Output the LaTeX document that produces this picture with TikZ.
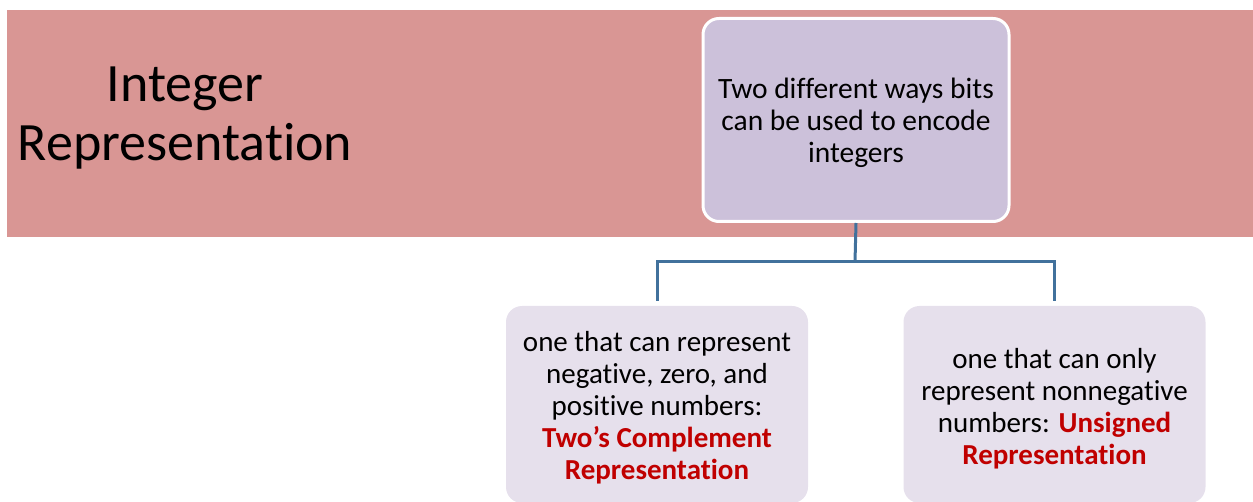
\documentclass[tikz,border=0pt]{standalone}
\usepackage{fontspec}
\setmainfont{Carlito}[Ligatures={NoCommon}]
\definecolor{bandpink}{HTML}{D99694}
\definecolor{topfill}{HTML}{CCC1DA}
\definecolor{subfill}{HTML}{E6E0EC}
\definecolor{connblue}{HTML}{41719C}
\definecolor{hired}{HTML}{C00000}
\tikzset{
  titletext/.style={align=center,font=\fontsize{54}{59}\selectfont,inner sep=0pt},
  topbox/.style={rounded corners=16pt,fill=topfill,draw=white,line width=3pt,
    minimum width=306pt,minimum height=203pt,inner sep=0pt},
  toptext/.style={align=center,font=\fontsize{29.5}{32}\selectfont,inner sep=0pt},
  subbox/.style={rounded corners=16pt,fill=subfill,
    minimum width=302pt,minimum height=197pt,inner sep=0pt},
  subtext/.style={align=center,font=\fontsize{29}{32}\selectfont,inner sep=0pt},
  conn/.style={draw=connblue,line width=3pt}
}
\newcommand{\hlred}[1]{\textcolor{hired}{\textbf{#1}}}
\begin{document}
\begin{tikzpicture}[x=1pt,y=-1pt]
\useasboundingbox (0,0) rectangle (1253,502);
\fill[bandpink] (7,10) rectangle (1253,237);
\node[titletext] (title) at (185,118) {Integer\\Representation};
\node[topbox] (top) at (856,120) {};
\node[toptext] (toplbl) at ([yshift=-3pt]top.center) {Two different ways bits\\can be used to encode\\integers};
\node[subbox] (left) at (657,404.5) {};
\node[subtext] (leftlbl) at ([yshift=-3pt]left.center) {one that can represent\\negative, zero, and\\positive numbers:\\\hlred{Two’s Complement}\\\hlred{Representation}};
\node[subbox] (right) at (1054.5,404.5) {};
\node[subtext] (rightlbl) at ([yshift=-4pt]right.center) {one that can only\\represent nonnegative\\numbers: \hlred{Unsigned}\\\hlred{Representation}};
\coordinate (mid) at (855,262);
\draw[conn] (top.south) -- (mid);
\draw[conn,shorten >=5pt] (mid) -| (left.north);
\draw[conn,shorten >=5pt] (mid) -| (right.north);
\end{tikzpicture}
\end{document}
